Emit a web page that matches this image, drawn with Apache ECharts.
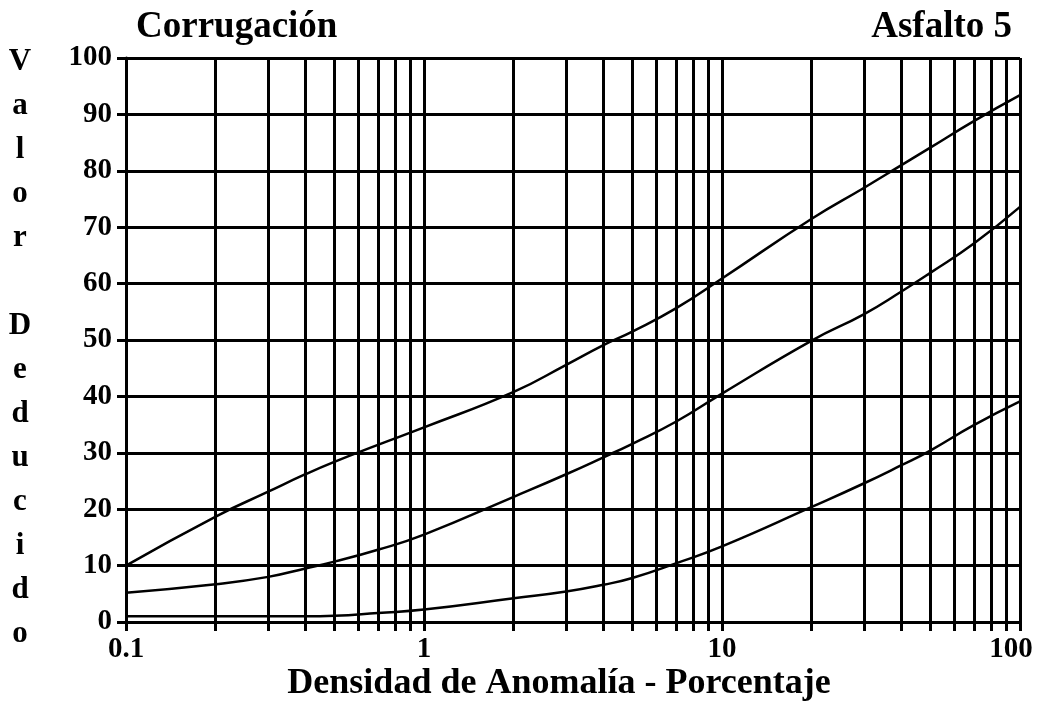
<!DOCTYPE html>
<html>
<head>
<meta charset="utf-8">
<script src="https://cdn.jsdelivr.net/npm/echarts@6/dist/echarts.min.js"></script>
<style>
  html, body { margin: 0; padding: 0; background: #fff; }
  #chart { width: 1039px; height: 702px; }
</style>
</head>
<body>
<div id="chart"></div>
<script>
// densidad de anomalia (%)
var densidad = [0.1, 0.2, 0.3, 0.4, 0.5, 0.7, 1, 2, 3, 4, 5, 7, 10, 20, 30, 40, 50, 70, 100];
// valor deducido para cada curva
var curvaAlta = [10, 18.7, 23.1, 26.2, 28.4, 31.4, 34.5, 40.8, 45.6, 49.1, 51.5, 55.6, 60.9, 71.5, 77.0, 81.0, 84.1, 88.8, 93.4];
var curvaMedia = [5.2, 6.7, 8.0, 9.5, 10.7, 12.8, 15.5, 22.2, 26.2, 29.2, 31.6, 35.5, 40.5, 49.9, 54.6, 58.6, 61.9, 67.1, 73.6];
var curvaBaja = [1, 1, 1, 1, 1.1, 1.6, 2.2, 4.2, 5.4, 6.6, 7.8, 10.4, 13.4, 20.4, 24.6, 27.8, 30.4, 34.9, 39.1];

var xTicks = [0.1, 0.2, 0.3, 0.4, 0.5, 0.6, 0.7, 0.8, 0.9,
  1, 2, 3, 4, 5, 6, 7, 8, 9,
  10, 20, 30, 40, 50, 60, 70, 80, 90, 100];
var xLabels = [0.1, 1, 10, 100];

var FONT = '"Liberation Serif", "Times New Roman", serif';

function pairs(ys) {
  var out = [];
  for (var i = 0; i < densidad.length; ++i) {
    out.push([densidad[i], ys[i]]);
  }
  return out;
}

function curve(ys) {
  return {
    type: 'line',
    data: pairs(ys),
    smooth: 0.5,
    showSymbol: false,
    symbol: 'none',
    lineStyle: { color: '#000', width: 2.5 },
    silent: true
  };
}

var chart = echarts.init(document.getElementById('chart'));

chart.setOption({
  backgroundColor: '#fff',
  animation: false,
  title: [{
    text: 'Corrugación',
    left: 131,
    top: 4,
    textStyle: { fontFamily: FONT, fontWeight: 'bold', fontSize: 37, color: '#000' }
  }, {
    text: 'Asfalto 5',
    right: 22,
    top: 4,
    textStyle: { fontFamily: FONT, fontWeight: 'bold', fontSize: 37, color: '#000' }
  }, {
    // titulo vertical del eje y, letra por letra
    text: 'V\na\nl\no\nr\n\nD\ne\nd\nu\nc\ni\nd\no',
    left: 20,
    top: 40,
    padding: 0,
    textAlign: 'center',
    textStyle: { fontFamily: FONT, fontWeight: 'bold', fontSize: 31, color: '#000', lineHeight: 44 }
  }],
  grid: { left: 126, right: 19, top: 58, bottom: 80, containLabel: false, outerBoundsMode: 'none' },
  xAxis: {
    type: 'log',
    logBase: 10,
    min: 0.1,
    max: 100,
    name: 'Densidad de Anomalía - Porcentaje',
    nameLocation: 'middle',
    nameGap: 44,
    nameMoveOverlap: false,
    nameTextStyle: {
      fontFamily: FONT, fontWeight: 'bold', fontSize: 36, color: '#000',
      padding: [0, 28, 0, 0]
    },
    axisLine: { lineStyle: { color: '#000', width: 3 } },
    axisTick: { show: true, customValues: xTicks, length: 9, lineStyle: { color: '#000', width: 3 } },
    axisLabel: {
      customValues: xLabels,
      margin: 13,
      color: '#000',
      fontFamily: FONT,
      fontWeight: 'bold',
      fontSize: 29,
      formatter: function(v) {
        return v === 100 ? '{last|100}' : String(v);
      },
      rich: {
        last: { fontFamily: FONT, fontWeight: 'bold', fontSize: 29, color: '#000', padding: [0, 18, 0, 0] }
      }
    },
    splitLine: { show: true, lineStyle: { color: '#000', width: 3 } }
  },
  yAxis: {
    type: 'value',
    min: 0,
    max: 100,
    interval: 10,
    axisLine: { lineStyle: { color: '#000', width: 3 } },
    axisTick: { show: true, length: 9, lineStyle: { color: '#000', width: 3 } },
    axisLabel: {
      margin: 14,
      color: '#000',
      fontFamily: FONT,
      fontWeight: 'bold',
      fontSize: 29
    },
    splitLine: { show: true, lineStyle: { color: '#000', width: 3 } }
  },
  series: [curve(curvaAlta), curve(curvaMedia), curve(curvaBaja)]
});
</script>
</body>
</html>
